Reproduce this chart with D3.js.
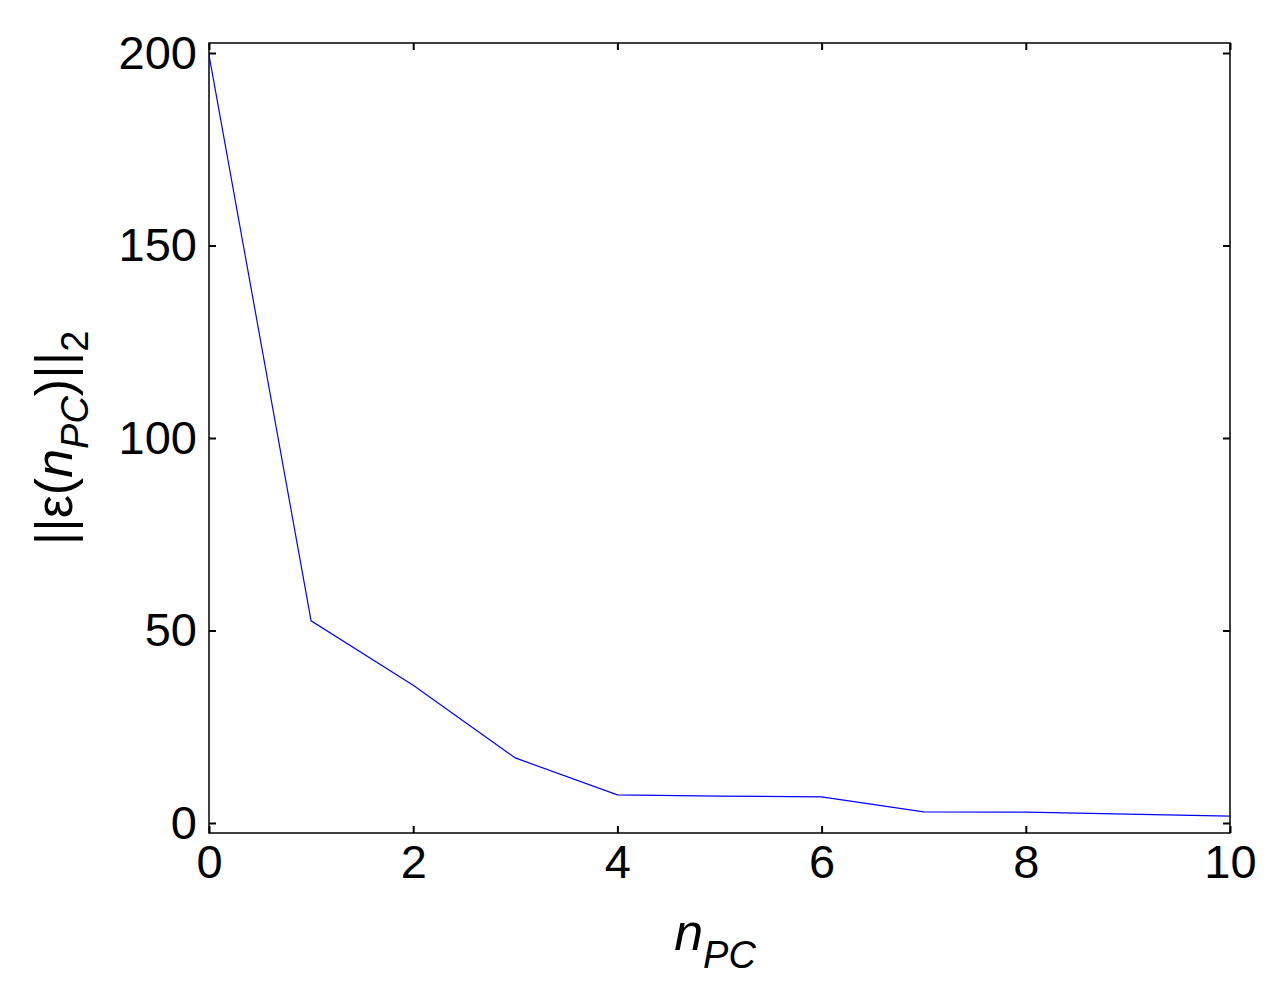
<!DOCTYPE html>
<html><head><meta charset="utf-8">
<script src="https://cdn.jsdelivr.net/npm/d3@7"></script>
<style>body{margin:0;background:#fff}text{font-family:"Liberation Sans",Arial,sans-serif}</style>
</head><body>
<script>
// values
var nPC = [0, 1, 2, 3, 4, 5, 6, 7, 8, 9, 10];
var errNorm = [199.5, 52.5, 35.8, 16.9, 7.3, 7.0, 6.8, 2.9, 2.8, 2.3, 1.8];
var xTicks = [0, 2, 4, 6, 8, 10];
var yTicks = [0, 50, 100, 150, 200];

var W = 1276, H = 984;
var pLeft = 209, pRight = 1230, pTop = 43, pBottom = 833;

var svg = d3.select("body").append("svg").attr("width", W).attr("height", H);

var x = d3.scaleLinear().domain([0, 10]).range([pLeft, pRight]);
var y = d3.scaleLinear().domain([0, 200]).range([823, 53]);

function blackTicks(g) {
	g.select(".domain").remove();
	g.selectAll("line").attr("stroke", "#000").attr("stroke-width", 2);
	g.selectAll("text").attr("font-size", 47).attr("fill", "#000");
}

// --- ticks (inside, on all four sides) --- //
var tl = 7;
svg.append("g").attr("transform", "translate(0," + pBottom + ")")
	.call(d3.axisBottom(x).tickValues(xTicks).tickSizeInner(-tl).tickSizeOuter(0).tickPadding(12))
	.call(blackTicks);
svg.append("g").attr("transform", "translate(0," + pTop + ")")
	.call(d3.axisTop(x).tickValues(xTicks).tickSizeInner(-tl).tickSizeOuter(0).tickFormat(""))
	.call(blackTicks);
svg.append("g").attr("transform", "translate(" + pLeft + ",0)")
	.call(d3.axisLeft(y).tickValues(yTicks).tickSizeInner(-tl).tickSizeOuter(0).tickPadding(12))
	.call(blackTicks);
svg.append("g").attr("transform", "translate(" + pRight + ",0)")
	.call(d3.axisRight(y).tickValues(yTicks).tickSizeInner(-tl).tickSizeOuter(0).tickFormat(""))
	.call(blackTicks);

// Box
svg.append("rect").attr("x", pLeft).attr("y", pTop).attr("width", pRight - pLeft).attr("height", pBottom - pTop)
	.attr("fill", "none").attr("stroke", "#000").attr("stroke-width", 1.5);

// Line
svg.append("path").datum(nPC)
	.attr("fill", "none").attr("stroke", "#0000ff").attr("stroke-width", 1.2)
	.attr("d", d3.line().x(function(d) { return x(d); }).y(function(d, i) { return y(errNorm[i]); }));

// --- labels --- //
var xl = svg.append("text").attr("x", 715).attr("y", 950).attr("text-anchor", "middle").attr("font-size", 52);
xl.append("tspan").attr("font-style", "italic").text("n");
xl.append("tspan").attr("font-style", "italic").attr("font-size", 38).attr("dy", 18).text("PC");

var yl = svg.append("text").attr("transform", "translate(72,438) rotate(-90)")
	.attr("text-anchor", "middle").attr("font-size", 52);
yl.append("tspan").text("||ε(");
yl.append("tspan").attr("font-style", "italic").text("n");
yl.append("tspan").attr("font-style", "italic").attr("font-size", 38).attr("dy", 16).text("PC");
yl.append("tspan").attr("dy", -16).text(")||");
yl.append("tspan").attr("font-size", 38).attr("dy", 16).text("2");
</script>
</body></html>
